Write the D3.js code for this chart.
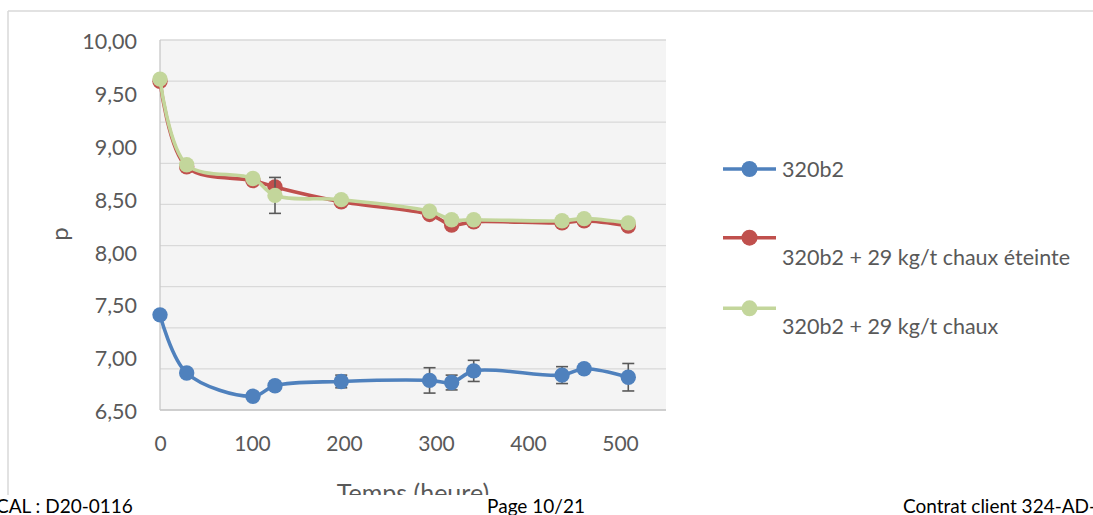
<!DOCTYPE html>
<html lang="fr">
<head>
<meta charset="utf-8">
<script src="https://cdn.jsdelivr.net/npm/d3@7"></script>
<style>
  html, body { margin: 0; padding: 0; background: #ffffff; overflow: hidden; }
  svg { display: block; }
  text { font-family: Lato, "Open Sans", sans-serif; }
</style>
</head>
<body>
<svg id="chart" width="1093" height="515"></svg>
<script>
// pH mesuré en fonction du temps (heures)
const times = [0, 29, 101, 125, 197, 293, 317, 341, 437, 461, 509];
const ph320b2 = [7.40, 6.85, 6.63, 6.73, 6.77, 6.78, 6.76, 6.87, 6.83, 6.89, 6.81];
const err320b2 = [0, 0, 0, 0, 0.06, 0.12, 0.07, 0.10, 0.08, 0, 0.13];
const phEteinte = [9.61, 8.80, 8.67, 8.61, 8.47, 8.35, 8.25, 8.28, 8.27, 8.29, 8.24];
const errEteinte = [0, 0, 0, 0, 0, 0, 0, 0, 0, 0, 0];
const phChaux = [9.63, 8.82, 8.69, 8.53, 8.49, 8.38, 8.30, 8.30, 8.29, 8.31, 8.27];
const errChaux = [0, 0, 0, 0.17, 0, 0, 0, 0, 0, 0, 0];

const seriesNames = ["320b2", "320b2 + 29 kg/t chaux éteinte", "320b2 + 29 kg/t chaux"];
const seriesColors = ["#4f81bd", "#c0504d", "#c3d69b"];

const xTicks = [0, 100, 200, 300, 400, 500];
const yTicks = [6.5, 7.0, 7.5, 8.0, 8.5, 9.0, 9.5, 10.0];
const xTitle = "Temps (heure)";
const yTitle = "p";
const footerLeft = "CAL : D20-0116";
const footerCenter = "Page 10/21";
const footerRight = "Contrat client 324-AD-";

const series = [
  { name: seriesNames[0], color: seriesColors[0], values: ph320b2, errors: err320b2 },
  { name: seriesNames[1], color: seriesColors[1], values: phEteinte, errors: errEteinte },
  { name: seriesNames[2], color: seriesColors[2], values: phChaux, errors: errChaux }
];

const svg = d3.select("#chart");
const plot = { left: 160, right: 666, top: 40, bottom: 410 };

const x = d3.scaleLinear().domain([0, 550]).range([plot.left, plot.right]);
const y = d3.scaleLinear().domain([6.5, 10]).range([plot.bottom, plot.top]);

// chart frame, cut off at the bottom by the page footer
svg.append("defs").append("clipPath").attr("id", "chartClip")
  .append("rect").attr("x", 0).attr("y", 0).attr("width", 1093).attr("height", 495);

const chart = svg.append("g").attr("clip-path", "url(#chartClip)");

chart.append("line").attr("x1", 8).attr("x2", 1093).attr("y1", 11).attr("y2", 11)
  .attr("stroke", "#d9d9d9").attr("stroke-width", 1.5);
chart.append("line").attr("x1", 8).attr("x2", 8).attr("y1", 11).attr("y2", 515)
  .attr("stroke", "#d9d9d9").attr("stroke-width", 1.5);

// plot area background
chart.append("rect")
  .attr("x", plot.left).attr("y", plot.top)
  .attr("width", plot.right - plot.left).attr("height", plot.bottom - plot.top)
  .attr("fill", "#f4f4f4");

// horizontal gridlines split the plot height into nine bands
const gridValues = d3.range(10).map(i => y.invert(plot.bottom - i * (plot.bottom - plot.top) / 9));
chart.append("g").selectAll("line").data(gridValues).join("line")
  .attr("x1", plot.left).attr("x2", plot.right)
  .attr("y1", d => y(d)).attr("y2", d => y(d))
  .attr("stroke", "#d9d9d9").attr("stroke-width", 1.3);

// axis lines
chart.append("line").attr("x1", plot.left).attr("x2", plot.left)
  .attr("y1", plot.top).attr("y2", plot.bottom).attr("stroke", "#c8c8c8").attr("stroke-width", 1.3);
chart.append("line").attr("x1", plot.left).attr("x2", plot.right)
  .attr("y1", plot.bottom).attr("y2", plot.bottom).attr("stroke", "#c8c8c8").attr("stroke-width", 1.3);

// y axis labels
const yAxis = d3.axisLeft(y).tickValues(yTicks).tickSize(0).tickPadding(23)
  .tickFormat(d => d3.format(".2f")(d).replace(".", ","));
const gy = chart.append("g").attr("transform", `translate(${plot.left},0)`).call(yAxis);
gy.select(".domain").remove();
gy.selectAll("text").attr("fill", "#595959").style("font-size", "21.5px").attr("dy", "0.4em");

// x axis labels
const xAxis = d3.axisBottom(x).tickValues(xTicks).tickSize(0).tickPadding(26);
const gx = chart.append("g").attr("transform", `translate(0,${plot.bottom})`).call(xAxis);
gx.select(".domain").remove();
gx.selectAll("text").attr("fill", "#595959").style("font-size", "21px");

// axis titles
chart.append("text")
  .attr("transform", "translate(68,234) rotate(-90)")
  .attr("text-anchor", "middle")
  .attr("fill", "#595959").style("font-size", "24px")
  .text(yTitle);
chart.append("text")
  .attr("x", 413).attr("y", 502)
  .attr("text-anchor", "middle")
  .attr("fill", "#595959").style("font-size", "25px")
  .text(xTitle);

// smoothed series lines, error bars and markers
const line = d3.line()
  .x((d, i) => x(times[i]))
  .y(d => y(d))
  .curve(d3.curveCatmullRom.alpha(0.5));

series.forEach(s => {
  const g = chart.append("g");
  g.append("path")
    .attr("d", line(s.values))
    .attr("fill", "none")
    .attr("stroke", s.color)
    .attr("stroke-width", 3.6)
    .attr("stroke-linejoin", "round");

  const bars = s.values.map((v, i) => ({ t: times[i], v, e: s.errors[i] })).filter(d => d.e > 0);
  const eb = g.append("g").attr("stroke", "#595959").attr("stroke-width", 1.6);
  eb.selectAll("line.v").data(bars).join("line").attr("class", "v")
    .attr("x1", d => x(d.t)).attr("x2", d => x(d.t))
    .attr("y1", d => y(d.v + d.e)).attr("y2", d => y(d.v - d.e));
  eb.selectAll("line.top").data(bars).join("line").attr("class", "top")
    .attr("x1", d => x(d.t) - 6).attr("x2", d => x(d.t) + 6)
    .attr("y1", d => y(d.v + d.e)).attr("y2", d => y(d.v + d.e));
  eb.selectAll("line.bot").data(bars).join("line").attr("class", "bot")
    .attr("x1", d => x(d.t) - 6).attr("x2", d => x(d.t) + 6)
    .attr("y1", d => y(d.v - d.e)).attr("y2", d => y(d.v - d.e));

  g.selectAll("circle").data(s.values).join("circle")
    .attr("cx", (d, i) => x(times[i]))
    .attr("cy", d => y(d))
    .attr("r", 7.7)
    .attr("fill", s.color);
});

// legend
const legendRows = [
  { lineY: 169, textY: 176.5 },
  { lineY: 237.7, textY: 265 },
  { lineY: 308.3, textY: 334 }
];
series.forEach((s, i) => {
  const row = legendRows[i];
  const lg = chart.append("g");
  lg.append("line").attr("x1", 723).attr("x2", 776)
    .attr("y1", row.lineY).attr("y2", row.lineY)
    .attr("stroke", s.color).attr("stroke-width", 3.6);
  lg.append("circle").attr("cx", 749.5).attr("cy", row.lineY).attr("r", 8).attr("fill", s.color);
  lg.append("text").attr("x", 782).attr("y", row.textY)
    .attr("fill", "#595959").style("font-size", "21.5px")
    .text(s.name);
});

// page footer
const footer = svg.append("g").attr("fill", "#000000").style("font-size", "19px");
footer.append("text").attr("x", -4).attr("y", 513).text(footerLeft);
footer.append("text").attr("x", 536).attr("y", 513).attr("text-anchor", "middle").text(footerCenter);
footer.append("text").attr("x", 903).attr("y", 513).text(footerRight);
</script>
</body>
</html>
